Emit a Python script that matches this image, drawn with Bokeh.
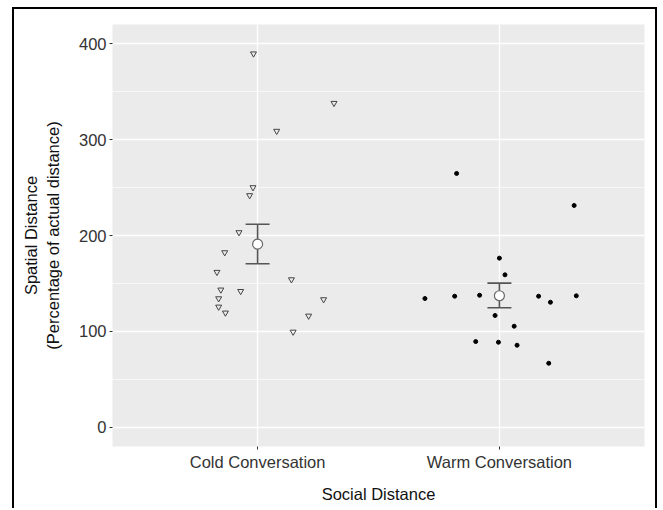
from bokeh.plotting import figure
from bokeh.models import FixedTicker, Range1d, ColumnDataSource, Whisker, TeeHead
from bokeh.embed import file_html
from bokeh.resources import INLINE

categories = ["Cold Conversation", "Warm Conversation"]

cold_offset = [-0.017, 0.316, 0.079, -0.019, -0.033, -0.077, -0.136, -0.168, -0.152,
               -0.070, -0.161, -0.161, -0.133, 0.140, 0.273, 0.211, 0.147]
cold_values = [389.6, 338.0, 308.9, 250.1, 241.8, 203.2, 182.3, 161.8, 143.4,
               141.9, 134.3, 125.6, 119.4, 154.1, 133.3, 116.2, 99.5]

warm_offset = [-0.177, 0.309, 0.000, 0.023, -0.308, -0.185, -0.082, 0.162, 0.211,
               0.318, -0.018, 0.061, -0.098, -0.004, 0.073, 0.204]
warm_values = [264.7, 231.3, 176.4, 159.0, 134.3, 136.7, 137.7, 136.7, 130.4,
               137.1, 116.6, 105.4, 89.4, 88.7, 85.6, 66.8]

means = [191.0, 137.2]
lower = [170.5, 124.6]
upper = [211.8, 150.3]

y_ticks = [0, 100, 200, 300, 400]
y_minor = [50, 150, 250, 350]

p = figure(width=645, height=501, output_backend="svg", toolbar_location=None,
           x_range=Range1d(0.4, 2.6), y_range=Range1d(-20, 420),
           min_border_left=98, min_border_right=15, min_border_top=15, min_border_bottom=64)
p.styles = {"margin-left": "12px", "margin-top": "7px",
            "border-left": "2px solid black", "border-top": "2px solid black",
            "border-right": "2px solid black"}

p.background_fill_color = "#EBEBEB"
p.border_fill_color = "white"
p.outline_line_color = None

yt = FixedTicker(ticks=y_ticks, minor_ticks=y_minor)
xt = FixedTicker(ticks=[1, 2])
p.yaxis.ticker = yt
p.xaxis.ticker = xt
p.xaxis.major_label_overrides = {1: categories[0], 2: categories[1]}

p.ygrid.ticker = yt
p.xgrid.ticker = xt
for g in (p.xgrid, p.ygrid):
    g.grid_line_color = "white"
    g.grid_line_width = 1.3
p.ygrid.minor_grid_line_color = "white"
p.ygrid.minor_grid_line_width = 0.6

for ax in (p.xaxis, p.yaxis):
    ax.axis_line_color = None
    ax.minor_tick_line_color = None
    ax.major_tick_line_color = "#333333"
    ax.major_tick_out = 3
    ax.major_tick_in = 0
    ax.major_label_text_font = "Liberation Sans"
    ax.major_label_text_font_size = "16.5px"
    ax.major_label_text_color = "#333333"
    ax.axis_label_text_font = "Liberation Sans"
    ax.axis_label_text_font_size = "16.5px"
    ax.axis_label_text_font_style = "normal"
    ax.axis_label_text_color = "#111111"

p.xaxis.axis_label = "Social Distance"
p.yaxis.axis_label = "Spatial Distance\n(Percentage of actual distance)"
p.xaxis.major_label_standoff = 3
p.yaxis.major_label_standoff = 2
p.xaxis.axis_label_standoff = 11
p.yaxis.axis_label_standoff = 14

cold_src = ColumnDataSource(dict(x=[1 + o for o in cold_offset], y=cold_values))
warm_src = ColumnDataSource(dict(x=[2 + o for o in warm_offset], y=warm_values))

p.scatter("x", "y", source=cold_src, marker="inverted_triangle", size=6,
          fill_color=None, line_color="#444444", line_width=1)
p.scatter("x", "y", source=warm_src, marker="circle", size=4,
          fill_color="black", line_color="black")

mean_src = ColumnDataSource(dict(x=[1, 2], m=means, lo=lower, up=upper))
w = Whisker(source=mean_src, base="x", upper="up", lower="lo", dimension="height",
            line_color="#555555", line_width=1.6,
            upper_head=TeeHead(size=24, line_color="#555555", line_width=1.6),
            lower_head=TeeHead(size=24, line_color="#555555", line_width=1.6))
p.add_layout(w)
p.scatter("x", "m", source=mean_src, marker="circle", size=10,
          fill_color="white", line_color="#666666", line_width=1.2)

open("out.html", "w").write(file_html(p, INLINE))
